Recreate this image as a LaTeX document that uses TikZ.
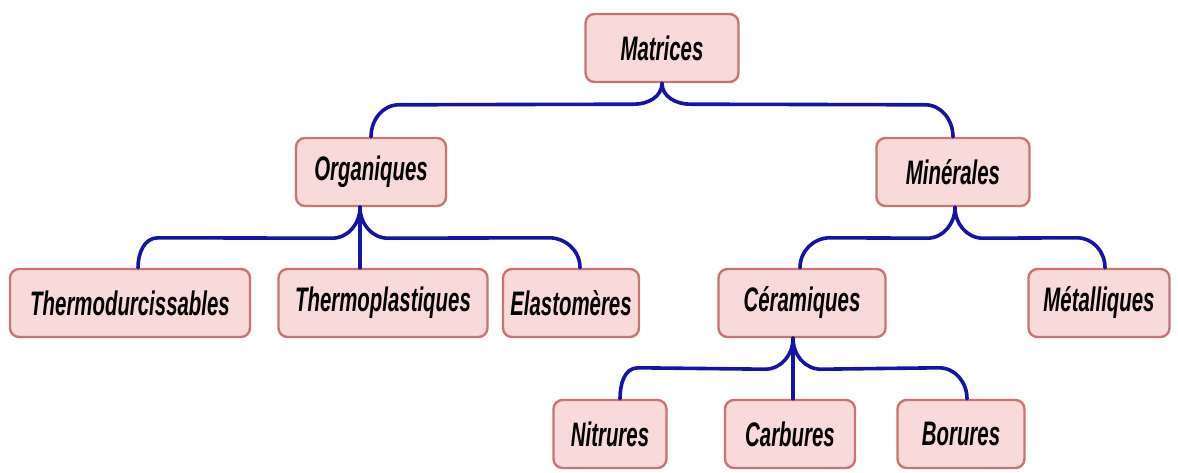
\documentclass[tikz,border=0pt]{standalone}
\usepackage{fontspec}
\setmainfont{Liberation Sans}[FakeStretch=0.6]
\usetikzlibrary{calc}
\definecolor{boxfill}{HTML}{F8DADA}
\definecolor{boxline}{HTML}{C97373}
\definecolor{connblue}{HTML}{1414A8}
\tikzset{
  box/.style={draw=boxline, fill=boxfill, line width=2.4pt, rounded corners=9pt,
    minimum height=68pt, inner sep=0pt, font=\fontsize{34}{36}\selectfont\bfseries\itshape},
  conn/.style={draw=connblue, line width=3.6pt, line cap=round}
}
\begin{document}
\begin{tikzpicture}[x=1pt,y=-1pt]
\useasboundingbox (0,0) rectangle (1178,473);
% nodes
\node[box, minimum width=153pt] (M) at (662,48) {Matrices};
\node[box, minimum width=150pt] (O) at (371,172) {Organiques};
\node[box, minimum width=153pt] (Mi) at (953,172) {Minérales};
\node[box, minimum width=240pt] (Td) at (130,303) {Thermodurcissables};
\node[box, minimum width=209pt] (Tp) at (383,303) {Thermoplastiques};
\node[box, minimum width=136pt] (E) at (571,303) {Elastomères};
\node[box, minimum width=167pt] (C) at (802,303) {Céramiques};
\node[box, minimum width=141pt] (Me) at (1099,303) {Métalliques};
\node[box, minimum width=113pt] (N) at (610,434) {Nitrures};
\node[box, minimum width=130pt] (Ca) at (790,434) {Carbures};
\node[box, minimum width=127pt] (B) at (961,434) {Borures};
% joints
\coordinate (jM) at (M.south);
\coordinate (jO) at ($(O.south)+(-11,0)$);
\coordinate (jMi) at ($(Mi.south)+(2,0)$);
\coordinate (jC) at ($(C.south)+(-9,0)$);
% Matrices
\draw[conn] (jM) to[out=-90,in=0] ($(jM)+(-28,21)$) -- ($(O.north)+(28,-32)$) to[out=180,in=90] (O.north);
\draw[conn] (jM) to[out=-90,in=180] ($(jM)+(28,21)$) -- ($(Mi.north)+(-28,-32)$) to[out=0,in=90] (Mi.north);
% Organiques
\draw[conn] (jO) to[out=-90,in=0] ($(jO)+(-28,31)$) -- ($(Td.north)+(28,-30)$) to[out=180,in=90] ($(Td.north)+(8,0)$);
\draw[conn] (jO) to[out=-90,in=180] ($(jO)+(28,31)$) -- ($(E.north)+(-22,-30)$) to[out=0,in=90] ($(E.north)+(9,0)$);
\draw[conn] (jO) -- (jO |- Tp.north);
% Minerales
\draw[conn] (jMi) to[out=-90,in=0] ($(jMi)+(-28,31)$) -- ($(C.north)+(28,-30)$) to[out=180,in=90] ($(C.north)+(-2,0)$);
\draw[conn] (jMi) to[out=-90,in=180] ($(jMi)+(28,31)$) -- ($(Me.north)+(-22,-30)$) to[out=0,in=90] ($(Me.north)+(6,0)$);
% Ceramiques
\draw[conn] (jC) to[out=-90,in=0] ($(jC)+(-28,31)$) -- ($(N.north)+(28,-31)$) to[out=180,in=90] ($(N.north)+(10,0)$);
\draw[conn] (jC) to[out=-90,in=180] ($(jC)+(28,31)$) -- ($(B.north)+(-22,-31)$) to[out=0,in=90] ($(B.north)+(6,0)$);
\draw[conn] (jC) -- (jC |- Ca.north);
\end{tikzpicture}
\end{document}
